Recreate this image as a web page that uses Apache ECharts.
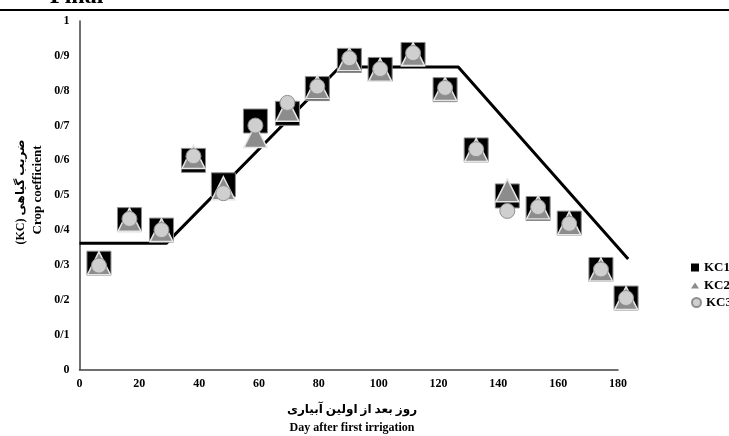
<!DOCTYPE html>
<html>
<head>
<meta charset="utf-8">
<script src="https://cdn.jsdelivr.net/npm/echarts@6/dist/echarts.min.js"></script>
<style>
html,body{margin:0;padding:0;background:#fff;}
#chart{width:729px;height:436px;}
</style>
</head>
<body>
<div id="chart"></div>
<script>
// ---- data ----
var days = [6.5, 16.7, 27.4, 38.1, 48.1, 58.8, 69.5, 79.5, 90.2, 100.5, 111.5, 122.2, 132.6, 143, 153.3, 163.7, 174.3, 182.7];
var kc1 = [0.305, 0.43, 0.40, 0.60, 0.53, 0.713, 0.735, 0.806, 0.887, 0.861, 0.904, 0.803, 0.63, 0.498, 0.462, 0.42, 0.287, 0.205];
var kc2 = [0.305, 0.43, 0.40, 0.61, 0.52, 0.67, 0.745, 0.81, 0.89, 0.86, 0.905, 0.805, 0.63, 0.514, 0.465, 0.42, 0.287, 0.205];
var kc3 = [0.298, 0.432, 0.40, 0.612, 0.506, 0.70, 0.765, 0.812, 0.893, 0.862, 0.908, 0.808, 0.632, 0.455, 0.466, 0.418, 0.287, 0.205];
var curveDays = [0, 29, 87, 126.6, 183.4];
var curveKc = [0.362, 0.362, 0.868, 0.868, 0.317];
var xTicks = [0, 20, 40, 60, 80, 100, 120, 140, 160, 180];
var yTitleFa = '(KC) ضریب گیاهی';
var yTitleEn = 'Crop coefficient';
var xTitleFa = 'روز بعد از اولین آبیاری';
var xTitleEn = 'Day after first irrigation';
var chartTitle = 'Final';
var names = ['KC1', 'KC2', 'KC3'];

function zip(a, b) { return a.map(function (v, i) { return [v, b[i]]; }); }

var FONT = '"Liberation Serif", "DejaVu Serif", "DejaVu Sans", serif';
var chart = echarts.init(document.getElementById('chart'));

// plot geometry: same scale in both grids; grid 1 shows axes 0..180, grid 2 (hidden) extends to 190 for the curve
var LEFT = 79.5, TOP = 21, BOTTOM = 66.5, W180 = 538.5;
var PX = W180 / 180;
var W190 = PX * 190;

var legendBase = {
  orient: 'vertical', left: 686, textStyle: { fontFamily: FONT, fontWeight: 'bold', fontSize: 13, color: '#000' },
  itemGap: 4, selectedMode: false
};

chart.setOption({
  animation: false,
  backgroundColor: '#fff',
  grid: [
    { left: LEFT, width: W180, top: TOP, bottom: BOTTOM, containLabel: false },
    { left: LEFT, width: W190, top: TOP, bottom: BOTTOM, containLabel: false }
  ],
  xAxis: [{
    gridIndex: 0, type: 'value', min: 0, max: 180, interval: 20,
    axisLine: { show: true, onZero: false, lineStyle: { color: '#404040', width: 1.5 } },
    axisTick: { show: false }, splitLine: { show: false },
    axisLabel: { fontFamily: FONT, fontWeight: 'bold', fontSize: 12, color: '#000', margin: 8,
      formatter: function (v) { return xTicks.indexOf(v) >= 0 ? String(v) : ''; } }
  }, {
    gridIndex: 1, type: 'value', min: 0, max: 190, show: false
  }],
  yAxis: [{
    gridIndex: 0, type: 'value', min: 0, max: 1, interval: 0.1,
    axisLine: { show: true, lineStyle: { color: '#404040', width: 1.5 } },
    axisTick: { show: false }, splitLine: { show: false },
    axisLabel: { fontFamily: FONT, fontWeight: 'bold', fontSize: 12, color: '#000', margin: 10,
      formatter: function (v) {
        if (Math.abs(v) < 1e-9) return '0';
        if (Math.abs(v - 1) < 1e-9) return '1';
        return v.toFixed(1).replace('.', '/');
      } }
  }, {
    gridIndex: 1, type: 'value', min: 0, max: 1, show: false
  }],
  legend: [
    Object.assign({}, legendBase, { top: 256, data: [{ name: names[0], icon: 'rect', itemStyle: { borderWidth: 0 } }], itemWidth: 8, itemHeight: 8 }),
    Object.assign({}, legendBase, { top: 274, data: [{ name: names[1], icon: 'triangle', itemStyle: { borderWidth: 0 } }], itemWidth: 8, itemHeight: 6 }),
    Object.assign({}, legendBase, { top: 291, data: [{ name: names[2], icon: 'circle' }], itemWidth: 9, itemHeight: 9 })
  ],
  graphic: [
    { type: 'line', shape: { x1: 0, y1: 10, x2: 729, y2: 10 }, style: { stroke: '#000', lineWidth: 2 }, z: 10 },
    { type: 'text', left: 50, top: -15, style: { text: chartTitle, font: 'bold 24px ' + FONT, fill: '#000' } },
    { type: 'text', x: 21, y: 192, rotation: Math.PI / 2,
      style: { text: yTitleFa, font: 'bold 12px ' + FONT, fill: '#000', align: 'center', verticalAlign: 'middle' } },
    { type: 'text', x: 38, y: 190, rotation: Math.PI / 2,
      style: { text: yTitleEn, font: 'bold 13px ' + FONT, fill: '#000', align: 'center', verticalAlign: 'middle' } },
    { type: 'text', x: 352, y: 410,
      style: { text: xTitleFa, font: 'bold 12px ' + FONT, fill: '#000', align: 'center', verticalAlign: 'middle' } },
    { type: 'text', x: 352, y: 428,
      style: { text: xTitleEn, font: 'bold 12px ' + FONT, fill: '#000', align: 'center', verticalAlign: 'middle' } }
  ],
  series: [
    { name: 'curve', type: 'line', xAxisIndex: 1, yAxisIndex: 1, data: zip(curveDays, curveKc), symbol: 'none', clip: false, z: 1,
      lineStyle: { color: '#000', width: 3 }, silent: true },
    { name: names[0], type: 'scatter', data: zip(days, kc1), symbol: 'rect', symbolSize: 24, clip: false, z: 2,
      itemStyle: { color: '#000', borderColor: '#8a8a8a', borderWidth: 1, opacity: 1 } },
    { name: names[1], type: 'scatter', data: zip(days, kc2), symbol: 'triangle', symbolSize: 23, clip: false, z: 3,
      itemStyle: { color: '#8c8c8c', borderColor: '#e6e6e6', borderWidth: 1.5, opacity: 1 } },
    { name: names[2], type: 'scatter', data: zip(days, kc3), symbol: 'circle', symbolSize: 15, clip: false, z: 4,
      itemStyle: { color: '#cfcfcf', borderColor: '#8f8f8f', borderWidth: 1, opacity: 1 } }
  ]
});
</script>
</body>
</html>
